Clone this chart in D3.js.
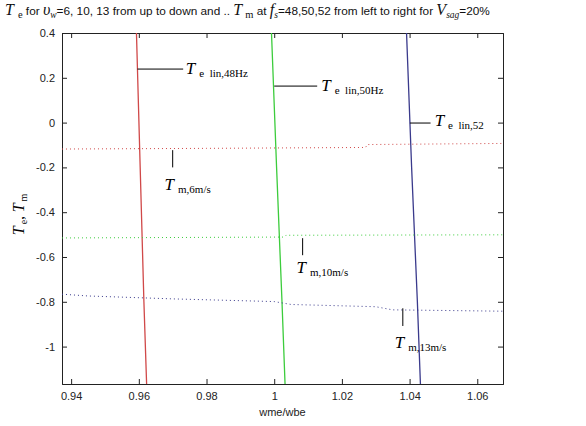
<!DOCTYPE html>
<html>
<head>
<meta charset="utf-8">
<script src="https://cdn.jsdelivr.net/npm/d3@7"></script>
<style>
  html, body { margin: 0; padding: 0; background: #fff; }
  svg { display: block; }
</style>
</head>
<body>
<svg id="chart" width="586" height="426"></svg>
<script>
// Axis ticks
const xTicks = [0.94, 0.96, 0.98, 1, 1.02, 1.04, 1.06];
const yTicks = [0.4, 0.2, 0, -0.2, -0.4, -0.6, -0.8, -1];

// Electrical torque (linearised) for fs = 48, 50, 52 Hz, sampled along Te
const teLevels = [0.4, -0.2, -0.8, -1.167];
const te48Speed = [0.9593, 0.9604, 0.9615, 0.9623];
const te50Speed = [0.9992, 1.0007, 1.0023, 1.0032];
const te52Speed = [1.0391, 1.0406, 1.0423, 1.0432];

// Mechanical torque for wind speeds 6, 10, 13 m/s
const tm6Speed  = [0.9373, 0.9800, 1.0270, 1.0275, 1.0676];
const tm6Torque = [-0.118, -0.115, -0.111, -0.098, -0.093];
const tm10Speed  = [0.9373, 0.9700, 1.0030, 1.0035, 1.0676];
const tm10Torque = [-0.515, -0.513, -0.511, -0.503, -0.501];
const tm13Speed  = [0.9373, 0.9450, 0.9700, 1.0000, 1.0050, 1.0300, 1.0350, 1.0676];
const tm13Torque = [-0.766, -0.774, -0.787, -0.799, -0.812, -0.822, -0.836, -0.842];

const W = 586, H = 426;
const margin = { top: 33, right: 83, bottom: 42, left: 62 };
const iw = W - margin.left - margin.right;
const ih = H - margin.top - margin.bottom;

const svg = d3.select("#chart");
const x = d3.scaleLinear().domain([0.9373, 1.0676]).range([0, iw]);
const y = d3.scaleLinear().domain([-1.167, 0.4]).range([ih, 0]);

const g = svg.append("g").attr("transform", `translate(${margin.left},${margin.top})`);

const sans = "'Liberation Sans', Arial, sans-serif";
const serif = "'Liberation Serif', 'Times New Roman', serif";
const fmt = d => String(+d.toFixed(2));

// Axes with inward ticks on all four sides
const axB = d3.axisBottom(x).tickValues(xTicks).tickSize(-5).tickPadding(8).tickFormat(fmt);
const axT = d3.axisTop(x).tickValues(xTicks).tickSize(-5).tickFormat("");
const axL = d3.axisLeft(y).tickValues(yTicks).tickSize(-5).tickPadding(7).tickFormat(fmt);
const axR = d3.axisRight(y).tickValues(yTicks).tickSize(-5).tickFormat("");

function styleAxis(sel) {
  sel.select(".domain").attr("stroke", "#222").attr("stroke-width", 1);
  sel.selectAll(".tick line").attr("stroke", "#222");
  sel.selectAll(".tick text").attr("fill", "#222").attr("font-family", sans).attr("font-size", 11);
}
g.append("g").attr("transform", `translate(0,${ih})`).call(axB).call(styleAxis);
g.append("g").call(axT).call(styleAxis);
g.append("g").call(axL).call(styleAxis);
g.append("g").attr("transform", `translate(${iw},0)`).call(axR).call(styleAxis);

const plot = g.append("g");
plot.append("clipPath").attr("id", "clip").append("rect").attr("width", iw).attr("height", ih);
const area = plot.append("g").attr("clip-path", "url(#clip)");

const line = d3.line().x(d => x(d[0])).y(d => y(d[1]));

// Te curves (solid)
const teSeries = [
  { speed: te48Speed, color: "#d04848" },
  { speed: te50Speed, color: "#3ccc3c" },
  { speed: te52Speed, color: "#3a3a8c" }
];
teSeries.forEach(s => {
  area.append("path")
    .attr("d", line(s.speed.map((v, i) => [v, teLevels[i]])))
    .attr("fill", "none").attr("stroke", s.color).attr("stroke-width", 1.3);
});

// Tm curves (dotted)
const tmSeries = [
  { speed: tm6Speed, torque: tm6Torque, color: "#d04848" },
  { speed: tm10Speed, torque: tm10Torque, color: "#3ccc3c" },
  { speed: tm13Speed, torque: tm13Torque, color: "#3a3a8c" }
];
tmSeries.forEach(s => {
  area.append("path")
    .attr("d", line(s.speed.map((v, i) => [v, s.torque[i]])))
    .attr("fill", "none").attr("stroke", s.color).attr("stroke-width", 1)
    .attr("stroke-dasharray", "1,3");
});

// Annotations: leader from (x1,y1) to (x2,y2), label at (lx,ly), in data units
const notes = [
  { x1: 0.9596, y1: 0.239, x2: 0.9731, y2: 0.239, lx: 0.9739, ly: 0.217, sub: "e\u2002lin,48Hz" },
  { x1: 1.0000, y1: 0.163, x2: 1.0127, y2: 0.163, lx: 1.0139, ly: 0.141, sub: "e\u2002lin,50Hz" },
  { x1: 1.0401, y1: -0.002, x2: 1.0462, y2: -0.002, lx: 1.0474, ly: -0.016, sub: "e\u2002lin,52" },
  { x1: 0.9700, y1: -0.123, x2: 0.9700, y2: -0.200, lx: 0.9676, ly: -0.300, sub: "m,6m/s" },
  { x1: 1.0084, y1: -0.516, x2: 1.0084, y2: -0.592, lx: 1.0066, ly: -0.672, sub: "m,10m/s" },
  { x1: 1.0380, y1: -0.829, x2: 1.0380, y2: -0.908, lx: 1.0356, ly: -1.005, sub: "m,13m/s" }
];
notes.forEach(n => {
  g.append("line")
    .attr("x1", x(n.x1)).attr("y1", y(n.y1)).attr("x2", x(n.x2)).attr("y2", y(n.y2))
    .attr("stroke", "#000").attr("stroke-width", 1);
  const t = g.append("text").attr("x", x(n.lx)).attr("y", y(n.ly)).attr("font-family", serif).attr("fill", "#000");
  t.append("tspan").attr("font-style", "italic").attr("font-size", 17).text("T");
  t.append("tspan").attr("font-size", 11).attr("dx", 4).attr("dy", 3).text(n.sub);
});

// Axis titles
svg.append("text")
  .attr("x", margin.left + iw / 2).attr("y", 416)
  .attr("text-anchor", "middle").attr("font-family", sans).attr("font-size", 11).attr("fill", "#222")
  .text("wme/wbe");

const yl = svg.append("text")
  .attr("transform", `translate(24,${margin.top + y(-0.41)}) rotate(-90)`)
  .attr("text-anchor", "middle").attr("font-family", serif).attr("fill", "#000");
yl.append("tspan").attr("font-style", "italic").attr("font-size", 16).text("T");
yl.append("tspan").attr("font-size", 10).attr("dy", 3).attr("dx", 2).text("e");
yl.append("tspan").attr("font-size", 15).attr("dy", -3).text(", ");
yl.append("tspan").attr("font-style", "italic").attr("font-size", 16).text("T");
yl.append("tspan").attr("font-size", 10).attr("dy", 3).attr("dx", 2).text("m");

// Title with mixed maths and plain text
const titleParts = [
  { t: "T", f: serif, s: 16, i: true },
  { t: "e", f: serif, s: 10.5, dy: 3, dx: 4 },
  { t: " for ", f: sans, s: 11.8, dy: -3 },
  { t: "\u03c5", f: serif, s: 16, i: true },
  { t: "w", f: serif, s: 9.5, dy: 3, i: true },
  { t: "=6, 10, 13 from up to down and .. ", f: sans, s: 11.8, dy: -3 },
  { t: "T", f: serif, s: 16, i: true },
  { t: "m", f: serif, s: 10.5, dy: 3, dx: 3 },
  { t: " at ", f: sans, s: 11.8, dy: -3 },
  { t: "f", f: serif, s: 16, i: true },
  { t: "s", f: serif, s: 9.5, dy: 3, i: true },
  { t: "=48,50,52 from left to right for ", f: sans, s: 11.8, dy: -3 },
  { t: "V", f: serif, s: 16, i: true },
  { t: "sag", f: serif, s: 9.5, dy: 3, i: true },
  { t: "=20%", f: sans, s: 11.8, dy: -3 }
];
const title = svg.append("text").attr("x", 5).attr("y", 15).attr("fill", "#111").attr("xml:space", "preserve");
titleParts.forEach(p => {
  const ts = title.append("tspan").attr("font-family", p.f).attr("font-size", p.s).text(p.t);
  if (p.i) ts.attr("font-style", "italic");
  if (p.dy) ts.attr("dy", p.dy);
  if (p.dx) ts.attr("dx", p.dx);
});
</script>
</body>
</html>
